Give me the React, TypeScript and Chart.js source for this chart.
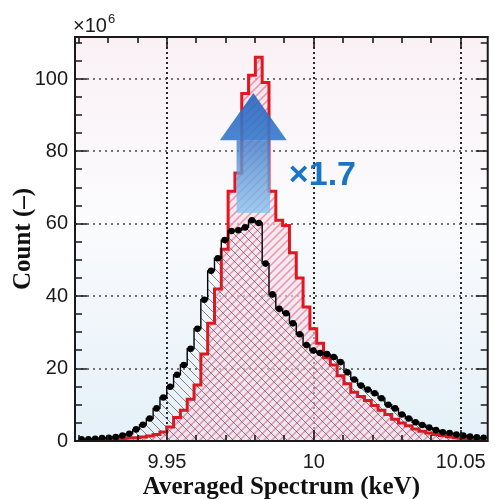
import React, { useEffect, useRef } from "react";
import { Chart, registerables } from "chart.js";

Chart.register(...registerables);

// ---- data (counts in units of 10^6) ----
const ENERGY_KEV = [
  9.92094, 9.92326, 9.92558, 9.9279, 9.93022, 9.93254, 9.93486, 9.93718, 9.9395, 9.94182,
  9.94414, 9.94646, 9.94878, 9.9511, 9.95342, 9.95574, 9.95806, 9.96038, 9.9627, 9.96502,
  9.96734, 9.96966, 9.97198, 9.9743, 9.97662, 9.97894, 9.98126, 9.98358, 9.9859, 9.98822,
  9.99054, 9.99286, 9.99518, 9.9975, 9.99982, 10.00214, 10.00446, 10.00678, 10.0091, 10.01142,
  10.01374, 10.01606, 10.01838, 10.0207, 10.02302, 10.02534, 10.02766, 10.02998, 10.0323, 10.03462,
  10.03694, 10.03926, 10.04158, 10.0439, 10.04622, 10.04854, 10.05086, 10.05318, 10.0555, 10.05782,
];

const BLACK_COUNTS = [
  0.5, 0.5, 0.6, 0.8, 0.9, 1.1, 1.5, 2.0, 3.2, 4.5,
  6.2, 9.0, 12.0, 15.0, 18.3, 21.0, 25.5, 31.0, 39.0, 47.0,
  50.5, 55.5, 58.0, 58.2, 59.0, 61.0, 60.2, 49.0, 40.5, 36.5,
  35.3, 32.5, 29.5, 26.5, 25.0, 24.3, 24.0, 23.2, 21.8, 19.0,
  17.0, 15.3, 14.2, 13.2, 11.8, 10.0, 9.0, 7.3, 6.2, 5.2,
  4.4, 3.7, 3.0, 2.4, 2.2, 1.8, 1.5, 1.2, 1.0, 0.9,
];

const RED_COUNTS = [
  0.2, 0.2, 0.3, 0.3, 0.4, 0.5, 0.6, 0.8, 0.9, 1.1,
  1.4, 1.8, 2.5, 3.9, 6.5, 8.5, 11.5, 15.5, 24.0, 32.5,
  42.0, 53.0, 69.0, 74.0, 96.0, 101.0, 106.0, 99.0, 69.0, 61.0,
  59.5, 52.0, 45.0, 37.0, 31.0, 27.0, 23.0, 21.0, 18.0, 15.8,
  13.5, 12.3, 11.2, 9.8, 8.5, 7.3, 6.0, 5.0, 4.2, 3.3,
  2.7, 2.2, 1.8, 1.5, 1.2, 0.9, 0.7, 0.6, 0.5, 0.4,
];

const X_MAJOR_TICKS = [9.95, 10, 10.05];
const X_MINOR_TICKS = [9.92, 9.93, 9.94, 9.96, 9.97, 9.98, 9.99, 10.01, 10.02, 10.03, 10.04];
const Y_MAJOR_TICKS = [0, 20, 40, 60, 80, 100];
const Y_MINOR_TICKS = [5, 10, 15, 25, 30, 35, 45, 50, 55, 65, 70, 75, 85, 90, 95, 105, 110];

const X_MIN = 9.9187;
const X_MAX = 10.0592;
const Y_MIN = 0;
const Y_MAX = 111.6;

const X_TITLE = "Averaged Spectrum (keV)";
const Y_TITLE = "Count (\u2013)";
const SCALE_LABEL = "\u00d710";
const SCALE_EXP = "6";
const RATIO_LABEL = "\u00d71.7";

// arrow annotation (data units)
const ARROW_CENTER_X = 9.9794;
const ARROW_TIP_Y = 96.1;
const ARROW_HEAD_BASE_Y = 83.1;
const ARROW_TAIL_Y = 63.0;
const ARROW_HEAD_HALF = 0.0114;
const ARROW_SHAFT_HALF = 0.0057;
const RATIO_LABEL_X = 9.9915;
const RATIO_LABEL_Y = 70.7;

const SANS = "'Liberation Sans', Arial, Helvetica, sans-serif";
const SERIF = "'Liberation Serif', 'Times New Roman', Times, serif";

function makeHatch(bg: string | null, stroke: string, dir: 1 | -1, s: number, lw: number) {
  const c = document.createElement("canvas");
  c.width = s;
  c.height = s;
  const g = c.getContext("2d")!;
  if (bg) {
    g.fillStyle = bg;
    g.fillRect(0, 0, s, s);
  }
  g.strokeStyle = stroke;
  g.lineWidth = lw;
  g.beginPath();
  if (dir === 1) {
    g.moveTo(-s, 2 * s);
    g.lineTo(2 * s, -s);
    g.moveTo(-s, s);
    g.lineTo(s, -s);
    g.moveTo(0, 2 * s);
    g.lineTo(2 * s, 0);
  } else {
    g.moveTo(-s, -s);
    g.lineTo(2 * s, 2 * s);
    g.moveTo(-s, 0);
    g.lineTo(s, 2 * s);
    g.moveTo(0, -s);
    g.lineTo(2 * s, s);
  }
  g.stroke();
  return g.createPattern(c, "repeat")!;
}

const decorPlugin = {
  id: "decor",
  beforeDraw(chart: any) {
    const { ctx, chartArea: a } = chart;
    ctx.save();
    const grad = ctx.createLinearGradient(0, a.top, 0, a.bottom);
    grad.addColorStop(0, "#faf1f5");
    grad.addColorStop(0.45, "#fbfbfd");
    grad.addColorStop(1, "#e4f0f8");
    ctx.fillStyle = grad;
    ctx.fillRect(a.left, a.top, a.right - a.left, a.bottom - a.top);
    ctx.restore();
  },
  beforeDatasetsDraw(chart: any) {
    const { ctx, chartArea: a, scales } = chart;
    const xs = scales.x;
    const ys = scales.y;
    ctx.save();
    ctx.strokeStyle = "#2a2a2a";
    ctx.lineWidth = 2;
    ctx.setLineDash([2, 3]);
    X_MAJOR_TICKS.forEach((v) => {
      const px = Math.round(xs.getPixelForValue(v));
      ctx.beginPath();
      ctx.moveTo(px, a.top);
      ctx.lineTo(px, a.bottom);
      ctx.stroke();
    });
    ctx.strokeStyle = "#4a4a4a";
    ctx.lineWidth = 1.6;
    ctx.setLineDash([2, 4]);
    Y_MAJOR_TICKS.forEach((v) => {
      if (v === 0) return;
      const py = Math.round(ys.getPixelForValue(v));
      ctx.beginPath();
      ctx.moveTo(a.left, py);
      ctx.lineTo(a.right, py);
      ctx.stroke();
    });
    ctx.restore();
  },
  afterDatasetsDraw(chart: any) {
    const { ctx, chartArea: a, scales } = chart;
    const xs = scales.x;
    const ys = scales.y;
    ctx.save();

    // arrow
    const cx = xs.getPixelForValue(ARROW_CENTER_X);
    const tipY = ys.getPixelForValue(ARROW_TIP_Y);
    const baseY = ys.getPixelForValue(ARROW_HEAD_BASE_Y);
    const tailY = ys.getPixelForValue(ARROW_TAIL_Y);
    const hL = xs.getPixelForValue(ARROW_CENTER_X - ARROW_HEAD_HALF);
    const hR = xs.getPixelForValue(ARROW_CENTER_X + ARROW_HEAD_HALF);
    const sL = xs.getPixelForValue(ARROW_CENTER_X - ARROW_SHAFT_HALF);
    const sR = xs.getPixelForValue(ARROW_CENTER_X + ARROW_SHAFT_HALF);

    const sg = ctx.createLinearGradient(0, baseY, 0, tailY);
    sg.addColorStop(0, "rgba(70,130,205,0.85)");
    sg.addColorStop(1, "rgba(130,195,240,0.75)");
    ctx.fillStyle = sg;
    ctx.fillRect(sL, baseY, sR - sL, tailY - baseY);

    const hg = ctx.createLinearGradient(0, tipY, 0, baseY);
    hg.addColorStop(0, "rgba(40,100,190,0.9)");
    hg.addColorStop(1, "rgba(60,125,205,0.92)");
    ctx.fillStyle = hg;
    ctx.beginPath();
    ctx.moveTo(cx, tipY);
    ctx.lineTo(hR, baseY);
    ctx.lineTo(hL, baseY);
    ctx.closePath();
    ctx.fill();

    // ratio label
    ctx.fillStyle = "#1874c4";
    ctx.font = `bold 34px ${SANS}`;
    ctx.textAlign = "left";
    ctx.textBaseline = "alphabetic";
    ctx.fillText(RATIO_LABEL, xs.getPixelForValue(RATIO_LABEL_X), ys.getPixelForValue(RATIO_LABEL_Y));

    // frame
    ctx.strokeStyle = "#1a1a1a";
    ctx.lineWidth = 2;
    ctx.setLineDash([]);
    ctx.strokeRect(a.left, a.top, a.right - a.left, a.bottom - a.top);

    // inward ticks
    ctx.lineWidth = 1.6;
    const tickX = (v: number, len: number) => {
      const px = Math.round(xs.getPixelForValue(v));
      ctx.beginPath();
      ctx.moveTo(px, a.bottom);
      ctx.lineTo(px, a.bottom - len);
      ctx.moveTo(px, a.top);
      ctx.lineTo(px, a.top + len);
      ctx.stroke();
    };
    const tickY = (v: number, len: number) => {
      const py = Math.round(ys.getPixelForValue(v));
      ctx.beginPath();
      ctx.moveTo(a.left, py);
      ctx.lineTo(a.left + len, py);
      ctx.moveTo(a.right, py);
      ctx.lineTo(a.right - len, py);
      ctx.stroke();
    };
    X_MAJOR_TICKS.forEach((v) => tickX(v, 11));
    X_MINOR_TICKS.forEach((v) => tickX(v, 6));
    Y_MAJOR_TICKS.forEach((v) => tickY(v, 12));
    Y_MINOR_TICKS.forEach((v) => tickY(v, 7));

    // ×10^6
    ctx.fillStyle = "#1a1a1a";
    ctx.font = `20px ${SANS}`;
    ctx.textBaseline = "alphabetic";
    ctx.textAlign = "left";
    const bx = a.left - 2;
    const by = a.top - 5;
    ctx.fillText(SCALE_LABEL, bx, by);
    const w = ctx.measureText(SCALE_LABEL).width;
    ctx.font = `13px ${SANS}`;
    ctx.fillText(SCALE_EXP, bx + w + 1, by - 9);

    ctx.restore();
  },
};

export default function App() {
  const ref = useRef<HTMLCanvasElement | null>(null);

  useEffect(() => {
    if (!ref.current) return;
    const redHatch = makeHatch("rgba(247,222,232,0.6)", "rgba(226,120,150,0.75)", 1, 8, 1.5);
    const blackHatch = makeHatch(null, "rgba(85,85,95,0.7)", -1, 9, 1);

    const chart = new Chart(ref.current, {
      type: "line",
      data: {
        datasets: [
          {
            label: "black",
            data: ENERGY_KEV.map((x, i) => ({ x, y: BLACK_COUNTS[i] })),
            stepped: "middle",
            borderColor: "#000000",
            borderWidth: 1.4,
            pointRadius: 3.3,
            pointBackgroundColor: "#000000",
            pointBorderWidth: 0,
            fill: "origin",
            backgroundColor: blackHatch,
            order: 1,
          },
          {
            label: "red",
            data: ENERGY_KEV.map((x, i) => ({ x, y: RED_COUNTS[i] })),
            stepped: "middle",
            borderColor: "#e3161f",
            borderWidth: 3,
            pointRadius: 0,
            fill: "origin",
            backgroundColor: redHatch,
            order: 2,
          },
        ],
      },
      options: {
        animation: false,
        responsive: true,
        maintainAspectRatio: false,
        layout: { padding: { left: 0, right: 1, top: 37, bottom: 0 } },
        plugins: { legend: { display: false }, tooltip: { enabled: false } },
        scales: {
          x: {
            type: "linear",
            min: X_MIN,
            max: X_MAX,
            afterBuildTicks: (s: any) => {
              s.ticks = X_MAJOR_TICKS.map((v) => ({ value: v }));
            },
            afterFit: (s: any) => {
              s.height = 58;
            },
            grid: { display: false, drawTicks: false },
            border: { display: false },
            ticks: {
              autoSkip: false,
              maxRotation: 0,
              padding: 9,
              color: "#1a1a1a",
              font: { family: SANS, size: 20 },
              callback: (v: any) => String(Number(v)),
            },
            title: {
              display: true,
              text: X_TITLE,
              color: "#111111",
              font: { family: SERIF, size: 25, weight: "bold", lineHeight: 1 },
              padding: { top: 0, bottom: -1 },
            },
          },
          y: {
            type: "linear",
            min: Y_MIN,
            max: Y_MAX,
            afterBuildTicks: (s: any) => {
              s.ticks = Y_MAJOR_TICKS.map((v) => ({ value: v }));
            },
            afterFit: (s: any) => {
              s.width = 75;
            },
            grid: { display: false, drawTicks: false },
            border: { display: false },
            ticks: {
              autoSkip: false,
              padding: 7,
              color: "#1a1a1a",
              font: { family: SANS, size: 20 },
            },
            title: {
              display: true,
              text: Y_TITLE,
              color: "#111111",
              font: { family: SERIF, size: 25, weight: "bold", lineHeight: 1.2 },
              padding: { top: 9, bottom: 0 },
            },
          },
        },
      },
      plugins: [decorPlugin],
    } as any);

    return () => chart.destroy();
  }, []);

  return (
    <div style={{ position: "fixed", left: 0, top: 0, width: 495, height: 499, background: "#ffffff" }}>
      <canvas ref={ref} />
    </div>
  );
}
